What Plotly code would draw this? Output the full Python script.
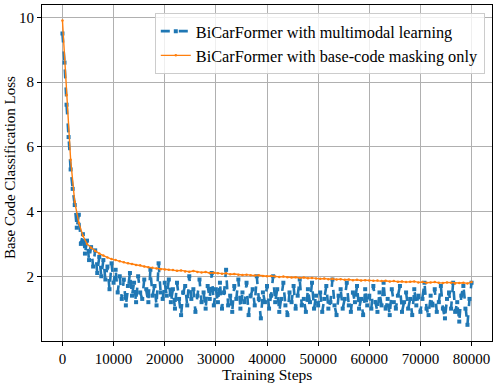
import plotly.graph_objects as go

blue_steps = list(range(0, 80001, 400))
blue_loss = [
    9.5, 8.6, 7.3, 6.3, 5.3, 4.7, 4.2, 3.5, 3.9, 3.0, 3.3, 2.7, 3.1, 2.5, 2.9, 2.3, 2.8, 2.1, 2.6, 2.0, 2.5, 1.9, 2.3, 1.6, 2.4, 1.8,
    2.2, 1.5, 2.0, 1.3, 1.9, 1.1, 1.7, 2.1, 1.4, 1.8, 1.2, 2.0, 1.5, 1.3, 1.9, 1.6, 1.2, 2.2, 1.4, 1.7, 1.1, 2.4, 1.5, 1.3, 1.8,
    1.4, 1.9, 1.2, 1.6, 1.0, 1.8, 1.3, 0.8, 1.5, 1.7, 1.1, 2.0, 1.3, 1.6, 0.9, 1.4, 1.9, 1.2, 1.5, 1.0, 1.7, 1.3, 2.1, 1.1, 1.6,
    1.2, 1.8, 1.0, 1.5, 2.2, 1.1, 1.4, 0.9, 1.7, 1.3, 1.9, 1.0, 1.5, 1.2, 1.8, 0.8, 1.4, 1.6, 1.1, 2.0, 1.3, 0.7, 1.5, 1.2, 1.7,
    1.0, 1.4, 2.0, 1.2, 1.6, 0.9, 1.3, 1.8, 1.1, 0.8, 1.5, 1.2, 1.7, 1.0, 1.4, 1.9, 1.1, 1.3, 0.9, 1.6, 1.2, 1.8, 1.0, 1.4, 1.1,
    1.5, 0.9, 1.3, 1.7, 1.0, 1.2, 1.9, 1.1, 0.8, 1.4, 1.6, 1.0, 1.3, 1.8, 1.1, 0.9, 1.5, 1.2, 1.7, 1.0, 1.3, 0.8, 1.6, 1.1, 1.4,
    1.0, 1.7, 1.2, 0.9, 1.5, 1.1, 1.8, 1.0, 1.3, 0.8, 1.6, 1.2, 1.0, 1.4, 1.7, 0.9, 1.2, 1.5, 1.0, 1.3, 0.8, 1.6, 1.1, 1.4, 0.9,
    1.3, 1.8, 1.0, 0.8, 1.4, 1.1, 1.6, 0.9, 1.2, 1.7, 1.0, 0.7, 1.3, 1.5, 1.0, 1.8, 0.9, 1.2, 0.6, 1.4, 1.7, 1.0, 0.5, 1.3, 1.8,
]

orange_steps = list(range(0, 80001, 800))
orange_loss = [
    9.9, 7.6, 5.6, 4.3, 3.65, 3.25, 3.0, 2.88, 2.78, 2.70, 2.64, 2.58, 2.53, 2.50, 2.46, 2.43, 2.40, 2.38, 2.35, 2.34, 2.30, 2.28, 2.26, 2.24, 2.22, 2.21,
    2.20, 2.19, 2.17, 2.18, 2.15, 2.14, 2.16, 2.13, 2.12, 2.13, 2.10, 2.11, 2.09, 2.08, 2.09, 2.06, 2.07, 2.05, 2.04, 2.05, 2.03, 2.02, 2.03, 2.01, 2.00,
    2.01, 1.99, 1.98, 1.99, 1.97, 1.96, 1.97, 1.95, 1.96, 1.94, 1.95, 1.93, 1.92, 1.93, 1.91, 1.92, 1.90, 1.91, 1.89, 1.90, 1.88, 1.89, 1.87, 1.88, 1.87,
    1.86, 1.87, 1.85, 1.86, 1.84, 1.85, 1.83, 1.84, 1.82, 1.83, 1.84, 1.81, 1.82, 1.80, 1.81, 1.82, 1.80, 1.79, 1.81, 1.80, 1.78, 1.79, 1.80, 1.78, 1.82,
]

series_names = ["BiCarFormer with multimodal learning", "BiCarFormer with base-code masking only"]
x_ticks = [0, 10000, 20000, 30000, 40000, 50000, 60000, 70000, 80000]
y_ticks = [2, 4, 6, 8, 10]
x_title = "Training Steps"
y_title = "Base Code Classification Loss"

FONT = "Liberation Serif, Times New Roman, serif"

fig = go.Figure()
fig.add_trace(go.Scatter(
    x=blue_steps, y=blue_loss, name=series_names[0], mode="lines+markers",
    line=dict(color="#1f77b4", width=2.6, dash="dash"),
    marker=dict(color="#1f77b4", size=4, symbol="square"),
))
fig.add_trace(go.Scatter(
    x=orange_steps, y=orange_loss, name=series_names[1], mode="lines+markers",
    line=dict(color="#ff7f0e", width=1.4),
    marker=dict(color="#ff7f0e", size=2.5),
))

axis_common = dict(
    showline=True, linecolor="black", linewidth=1, mirror=True,
    showgrid=True, gridcolor="#b0b0b0", gridwidth=1,
    ticks="outside", ticklen=4, tickcolor="black", tickwidth=1,
    zeroline=False, automargin=False,
    tickfont=dict(family=FONT, size=15, color="black"),
)

fig.update_layout(
    width=498, height=385,
    margin=dict(l=42, r=6, t=5, b=44),
    plot_bgcolor="white", paper_bgcolor="white",
    font=dict(family=FONT, size=15, color="black"),
    xaxis=dict(range=[-4000, 84000], tickvals=x_ticks, ticktext=[str(v) for v in x_ticks], **axis_common),
    yaxis=dict(range=[0, 10.38], tickvals=y_ticks, ticktext=[str(v) for v in y_ticks], **axis_common),
    legend=dict(x=0.984, y=0.976, xanchor="right", yanchor="top",
                bgcolor="rgba(255,255,255,0.8)", bordercolor="#cccccc", borderwidth=1,
                font=dict(family=FONT, size=16.3), itemwidth=30, tracegroupgap=0),
    showlegend=True,
    annotations=[
        dict(text=x_title, xref="paper", yref="paper", x=0.5, y=-0.1, xanchor="center", yanchor="middle",
             showarrow=False, font=dict(family=FONT, size=15.5, color="black")),
        dict(text=y_title, xref="paper", yref="paper", x=-0.071, y=0.515, xanchor="center", yanchor="middle",
             textangle=-90, showarrow=False, font=dict(family=FONT, size=15, color="black")),
    ],
)

fig.write_html("out.html", config={"displayModeBar": False},
               post_script="document.body.style.margin='0';document.body.style.padding='0';")
